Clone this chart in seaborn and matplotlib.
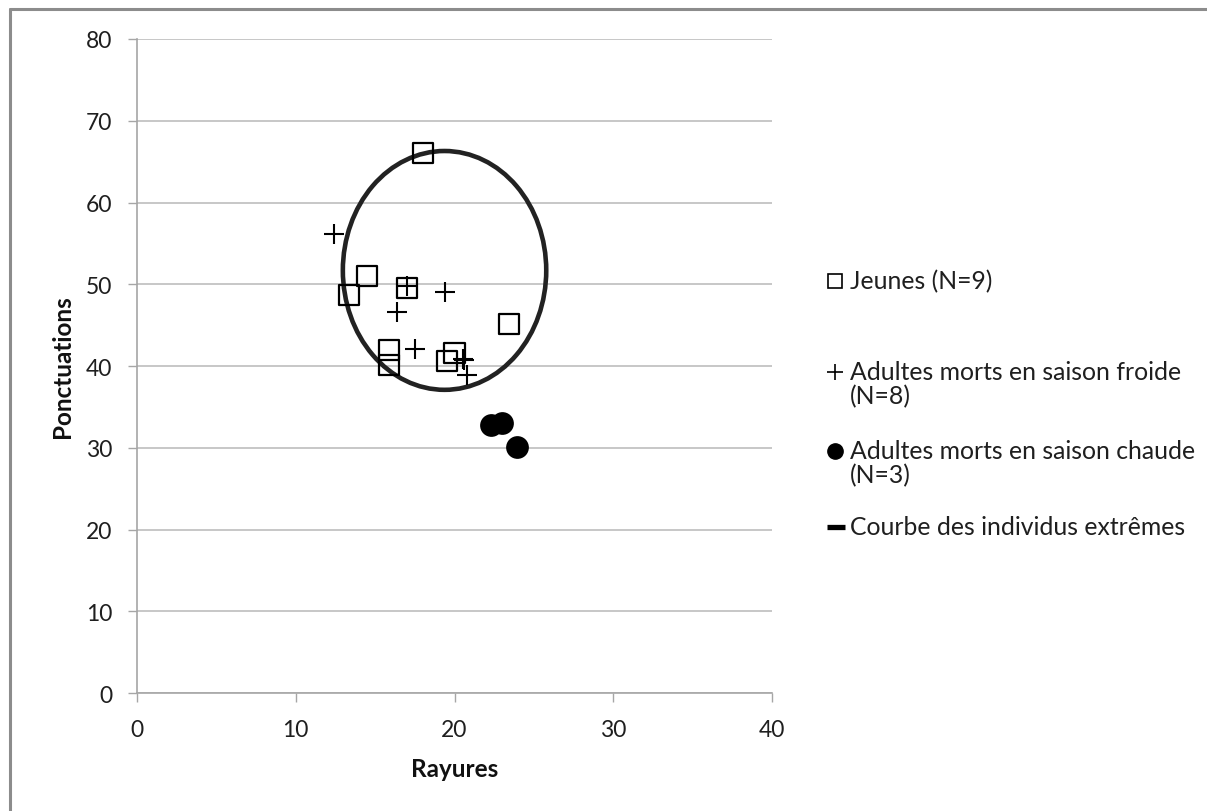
import matplotlib
matplotlib.use("Agg")
import matplotlib.pyplot as plt
import seaborn as sns
import pandas as pd
from matplotlib.patches import Ellipse
from matplotlib.lines import Line2D

# data
jeunes_x = [18.0, 14.5, 13.35, 17.0, 15.9, 15.9, 19.5, 20.0, 23.4]
jeunes_y = [66.1, 51.0, 48.7, 49.5, 42.0, 40.1, 40.6, 41.6, 45.1]

froide_x = [12.4, 17.0, 19.4, 16.4, 17.5, 20.5, 20.6, 20.8]
froide_y = [56.1, 49.8, 49.1, 46.6, 42.1, 40.9, 40.8, 38.9]

chaude_x = [22.3, 23.0, 23.9]
chaude_y = [32.8, 33.1, 30.1]

# "Courbe des individus extrêmes": centre, width, height in data units
courbe_centre = (19.37, 51.7)
courbe_size = (12.8, 29.2)

legend_labels = [
    ["Jeunes (N=9)"],
    ["Adultes morts en saison froide", "(N=8)"],
    ["Adultes morts en saison chaude", "(N=3)"],
    ["Courbe des individus extrêmes"],
]

sns.set_style("white")
plt.rcParams["font.family"] = ["Lato", "DejaVu Sans"]

fig = plt.figure(figsize=(12.07, 8.12), dpi=100)
ax = fig.add_axes([0.1133, 0.1450, 0.5266, 0.8058])

df_j = pd.DataFrame({"x": jeunes_x, "y": jeunes_y})
df_f = pd.DataFrame({"x": froide_x, "y": froide_y})
df_c = pd.DataFrame({"x": chaude_x, "y": chaude_y})

ax.add_patch(Ellipse(courbe_centre, courbe_size[0], courbe_size[1],
                     fill=False, edgecolor="#222222", linewidth=3.3, zorder=2))

sns.scatterplot(data=df_j, x="x", y="y", marker="s", s=210, facecolor="none",
                edgecolor="black", linewidth=1.6, ax=ax, legend=False, zorder=3)
sns.scatterplot(data=df_f, x="x", y="y", marker="+", s=220, color="black",
                linewidth=1.5, ax=ax, legend=False, zorder=3)
sns.scatterplot(data=df_c, x="x", y="y", marker="o", s=230, color="black",
                edgecolor="black", ax=ax, legend=False, zorder=3)

ax.set_xlim(0, 40)
ax.set_ylim(0, 80)
ax.set_xticks(range(0, 41, 10))
ax.set_yticks(range(0, 81, 10))
ax.yaxis.grid(True, color="#bdbdbd", linewidth=1.2)
ax.xaxis.grid(False)
ax.set_axisbelow(True)

for side in ["top", "right"]:
    ax.spines[side].set_visible(False)
for side in ["left", "bottom"]:
    ax.spines[side].set_color("#a6a6a6")
    ax.spines[side].set_linewidth(1.2)

ax.tick_params(axis="both", which="major", length=6.5, width=1.0, color="#a6a6a6",
               labelsize=16.5, labelcolor="#1f1f1f", direction="out")
ax.tick_params(axis="y", pad=11)
ax.tick_params(axis="x", pad=12)
ax.xaxis.set_ticks_position("bottom")
ax.yaxis.set_ticks_position("left")

ax.set_xlabel("Rayures", fontsize=17.5, fontweight="bold", color="#111111")
ax.set_ylabel("Ponctuations", fontsize=17.5, fontweight="bold", color="#111111")
ax.xaxis.set_label_coords(0.5, (694.3 - 770) / 654.3)
ax.xaxis.label.set_va("center")
ax.yaxis.set_label_coords((62 - 136.7) / 635.6, 0.5)
ax.yaxis.label.set_va("center")

# legend, laid out by hand like the spreadsheet one
W, H = 1207, 812
mx, tx = 835 / W, 850 / W
first_lines = [282, 373, 452, 528]
line_step = 24
handles = [
    dict(marker="s", markersize=10.5, markerfacecolor="none", markeredgecolor="black",
         markeredgewidth=1.2, linestyle="none"),
    dict(marker="+", markersize=11, color="black", markeredgewidth=1.2, linestyle="none"),
    dict(marker="o", markersize=11, color="black", linestyle="none"),
    None,
]
for lines, y0, h in zip(legend_labels, first_lines, handles):
    yf = 1 - y0 / H
    if h is None:
        fig.add_artist(Line2D([827 / W, 845 / W], [yf, yf], transform=fig.transFigure,
                              color="black", linewidth=3.8, solid_capstyle="butt"))
    else:
        fig.add_artist(Line2D([mx], [yf], transform=fig.transFigure, **h))
    for i, line in enumerate(lines):
        fig.text(tx, 1 - (y0 + i * line_step) / H, line, fontsize=17.8,
                 color="#1f1f1f", ha="left", va="center")

# outer chart frame (top and left edges visible)
fig.add_artist(Line2D([9.5 / W, 1], [1 - 9.5 / H, 1 - 9.5 / H], transform=fig.transFigure,
                      color="#8c8c8c", linewidth=2.2))
fig.add_artist(Line2D([9.5 / W, 9.5 / W], [0, 1 - 9.5 / H], transform=fig.transFigure,
                      color="#8c8c8c", linewidth=2.2))

fig.savefig("out.png", dpi=100)
